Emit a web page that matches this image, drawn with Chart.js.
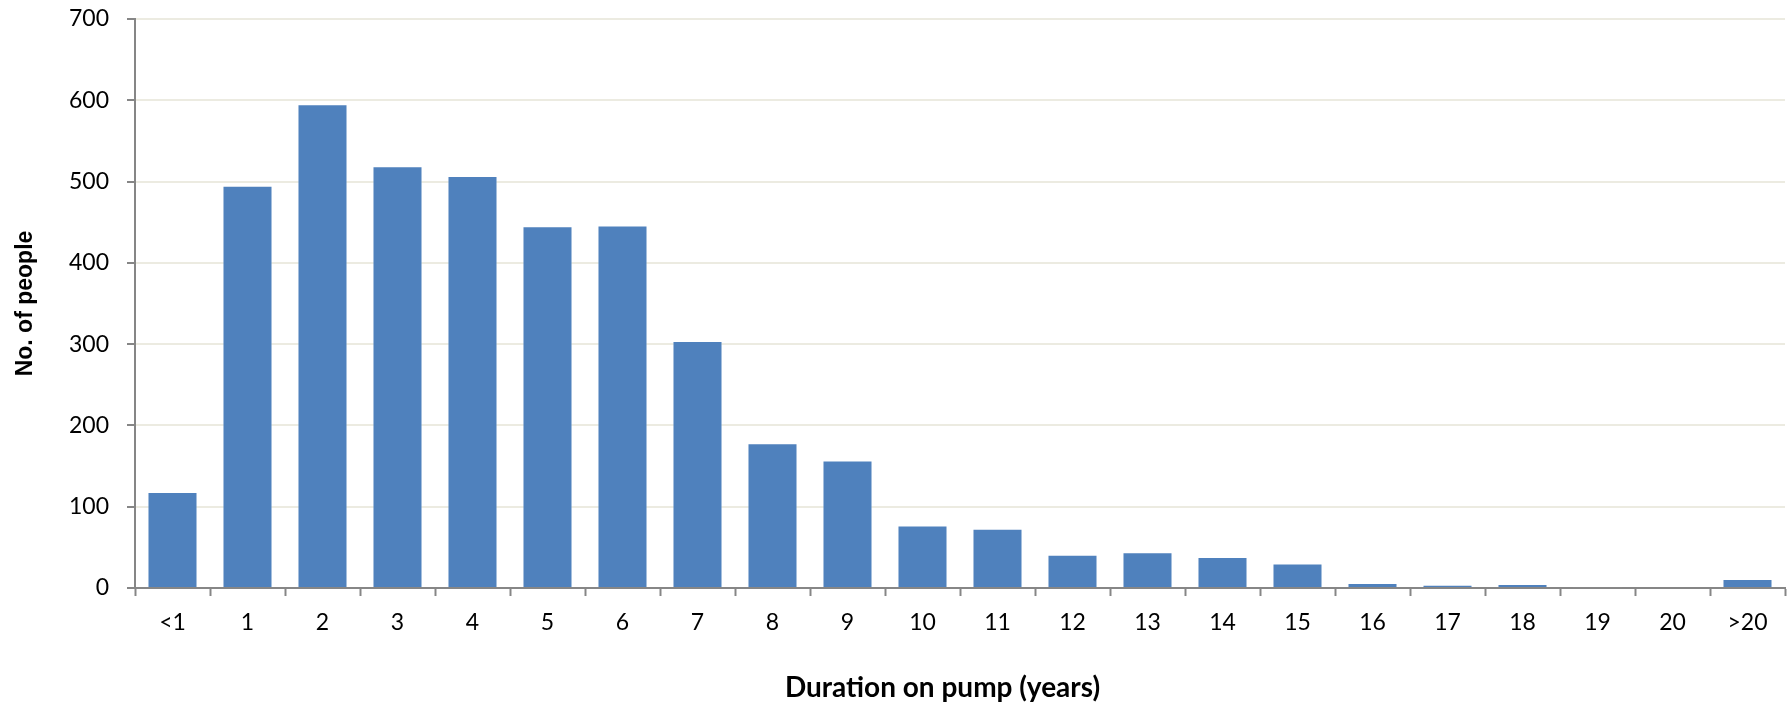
<!DOCTYPE html>
<html>
<head>
<meta charset="utf-8">
<script src="https://cdn.jsdelivr.net/npm/chart.js@4/dist/chart.umd.min.js"></script>
<style>
  html, body { margin: 0; padding: 0; background: #fff; }
  #wrap { width: 1787px; height: 709px; }
</style>
</head>
<body>
<div id="wrap"><canvas id="pumpChart" width="1787" height="709"></canvas></div>
<script>
// data
const categories = ["<1","1","2","3","4","5","6","7","8","9","10","11","12","13","14","15","16","17","18","19","20",">20"]
const people = [118,495,595,519,507,445,446,304,178,157,77,73,41,44,38,30,6,4,5,1,0,11]
const yTicks = [0,100,200,300,400,500,600,700]

const axisGray = '#868686'
const gridBeige = '#ecebe1'
const fontFam = 'Lato, "Open Sans", sans-serif'

const ctx = document.getElementById('pumpChart').getContext('2d')

const data = {
    labels: categories,
    datasets: [{
        label: 'No. of people',
        data: people,
        backgroundColor: '#4f81bd',
        borderColor: 'rgba(255,255,255,0.35)',
        borderWidth: 1,
        barPercentage: 0.667,
        categoryPercentage: 1.0
    }]
}

const config = {
    type: 'bar',
    data: data,
    options: {
        responsive: false,
        animation: false,
        layout: { padding: { top: 19, right: 2, left: 0, bottom: 0 } },
        plugins: {
            legend: { display: false },
            tooltip: { enabled: false }
        },
        scales: {
            x: {
                afterFit: function(scale){ scale.height = 121 },
                grid: {
                    offset: true,
                    drawOnChartArea: false,
                    drawTicks: true,
                    tickLength: 8,
                    tickColor: axisGray,
                    tickWidth: 2
                },
                border: { color: axisGray, width: 2 },
                ticks: {
                    color: '#000',
                    padding: 13,
                    maxRotation: 0,
                    autoSkip: false,
                    font: { family: fontFam, size: 23 }
                },
                title: {
                    display: true,
                    // trailing spaces nudge the centred title a bit left, like the original
                    text: 'Duration on pump (years)\u2003\u2002',
                    color: '#000',
                    padding: { bottom: 4 },
                    font: { family: fontFam, size: 28, weight: 'bold' }
                }
            },
            y: {
                min: 0,
                max: 700,
                afterFit: function(scale){
                    scale.width = 135
                    // tick padding would otherwise push the plot top down
                    scale.paddingTop = 0
                    scale.paddingBottom = 0
                },
                afterBuildTicks: function(scale){
                    scale.ticks = yTicks.map(v => ({ value: v }))
                },
                grid: {
                    color: gridBeige,
                    lineWidth: 2,
                    drawTicks: true,
                    tickLength: 8,
                    tickColor: axisGray,
                    tickWidth: 2
                },
                border: { color: axisGray, width: 2 },
                ticks: {
                    color: '#000',
                    padding: 18,
                    font: { family: fontFam, size: 23 }
                },
                title: {
                    display: true,
                    text: 'No. of people',
                    color: '#000',
                    padding: { top: 12 },
                    font: { family: '"Liberation Sans", Arial, sans-serif', size: 23, weight: 'bold' }
                }
            }
        }
    }
}

const result = new Chart(ctx, config)
</script>
</body>
</html>
